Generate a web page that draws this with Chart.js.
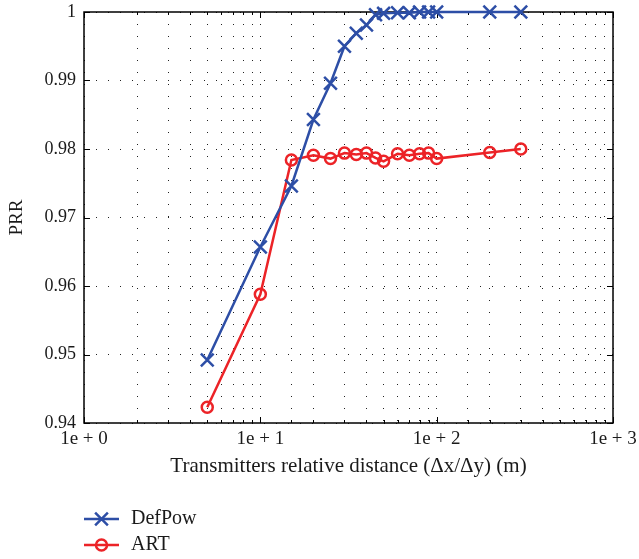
<!DOCTYPE html>
<html>
<head>
<meta charset="utf-8">
<script src="https://cdn.jsdelivr.net/npm/chart.js@4"></script>
<style>
  html, body { margin: 0; padding: 0; background: #fff; }
  #wrap { width: 639px; height: 559px; }
</style>
</head>
<body>
<div id="wrap"><canvas id="myChart" width="639" height="559"></canvas></div>
<script>
// data
const distances = [5, 10, 15, 20, 25, 30, 35, 40, 45, 50, 60, 70, 80, 90, 100, 200, 300];
const defPow = [0.9492, 0.9657, 0.9746, 0.9843, 0.9896, 0.9950, 0.9969, 0.9981, 0.9996, 0.9998,
  0.9999, 0.9999, 1.0, 1.0, 1.0, 1.0, 1.0];
const art = [0.9423, 0.9588, 0.9784, 0.9791, 0.9786, 0.9794, 0.9792, 0.9794, 0.9787, 0.9782,
  0.9793, 0.9791, 0.9793, 0.9794, 0.9786, 0.9795, 0.9800];
const seriesNames = ['DefPow', 'ART'];
const yTicks = [0.94, 0.95, 0.96, 0.97, 0.98, 0.99, 1];

const BLUE = '#2d4ea6';
const RED = '#ec2327';
const FONT = '"Liberation Serif", "DejaVu Serif", serif';

Chart.defaults.font.family = FONT;
Chart.defaults.font.size = 18;
Chart.defaults.color = '#1a1a1a';

function toPoints(values) {
  return distances.map((d, i) => ({ x: d, y: values[i] }));
}

function isDecade(v) {
  const e = Math.log10(v);
  return Math.abs(e - Math.round(e)) < 1e-9;
}

// frame + inward tick marks
const framePlugin = {
  id: 'frame',
  beforeDatasetsDraw(chart) {
    const { ctx, chartArea: a, scales } = chart;
    ctx.save();
    ctx.strokeStyle = '#000';
    ctx.lineWidth = 1.5;
    ctx.strokeRect(a.left, a.top, a.right - a.left, a.bottom - a.top);
    ctx.lineWidth = 1;
    ctx.beginPath();
    scales.x.ticks.forEach(t => {
      const px = Math.round(scales.x.getPixelForValue(t.value)) + 0.5;
      const len = isDecade(t.value) ? 6 : 3;
      ctx.moveTo(px, a.bottom); ctx.lineTo(px, a.bottom - len);
      ctx.moveTo(px, a.top); ctx.lineTo(px, a.top + len);
    });
    scales.y.ticks.forEach(t => {
      const py = Math.round(scales.y.getPixelForValue(t.value)) + 0.5;
      ctx.moveTo(a.left, py); ctx.lineTo(a.left + 6, py);
      ctx.moveTo(a.right, py); ctx.lineTo(a.right - 6, py);
    });
    ctx.stroke();
    ctx.restore();
  }
};

// vertical legend with line + marker samples
const legendPlugin = {
  id: 'lineLegend',
  afterDraw(chart) {
    const { ctx } = chart;
    const x0 = 84, x1 = 119, rows = [519, 545];
    ctx.save();
    chart.data.datasets.forEach((ds, i) => {
      const y = rows[i];
      ctx.strokeStyle = ds.borderColor;
      ctx.fillStyle = 'rgba(0,0,0,0)';
      ctx.lineWidth = ds.borderWidth;
      ctx.beginPath();
      ctx.moveTo(x0, y); ctx.lineTo(x1, y);
      ctx.stroke();
      Chart.helpers.drawPoint(ctx, {
        pointStyle: ds.pointStyle,
        radius: ds.pointRadius,
        borderWidth: ds.pointBorderWidth
      }, (x0 + x1) / 2, y);
      ctx.fillStyle = '#1a1a1a';
      ctx.font = '20px ' + FONT;
      ctx.textBaseline = 'middle';
      ctx.fillText(ds.label, 131, y);
    });
    ctx.restore();
  }
};

const ctx = document.getElementById('myChart').getContext('2d');
new Chart(ctx, {
  type: 'line',
  data: {
    datasets: [
      {
        label: seriesNames[0],
        data: toPoints(defPow),
        borderColor: BLUE,
        backgroundColor: 'rgba(0,0,0,0)',
        borderWidth: 2.5,
        pointStyle: 'crossRot',
        pointRadius: 9,
        pointBorderWidth: 2.5,
        pointBorderColor: BLUE,
        clip: false
      },
      {
        label: seriesNames[1],
        data: toPoints(art),
        borderColor: RED,
        backgroundColor: 'rgba(0,0,0,0)',
        borderWidth: 2.5,
        pointStyle: 'circle',
        pointRadius: 5.5,
        pointBorderWidth: 2.5,
        pointBorderColor: RED,
        clip: false
      }
    ]
  },
  options: {
    responsive: false,
    animation: false,
    layout: { padding: { left: 0, right: 26, top: 12, bottom: 80 } },
    plugins: {
      legend: { display: false },
      tooltip: { enabled: false }
    },
    elements: { line: { tension: 0 } },
    scales: {
      x: {
        type: 'logarithmic',
        min: 1,
        max: 1000,
        grid: { color: '#222', lineWidth: 1, drawTicks: false },
        border: { display: false, dash: [1, 11] },
        ticks: {
          autoSkip: false,
          maxRotation: 0,
          padding: 5,
          font: { size: 19 },
          callback: v => isDecade(v) ? '1e + ' + Math.round(Math.log10(v)) : ''
        },
        title: {
          display: true,
          text: 'Transmitters relative distance (\u0394x/\u0394y) (m)',
          font: { size: 21 },
          padding: { top: 4, bottom: 0 }
        },
        afterFit(scale) {
          scale.height = 56;
          scale.paddingLeft = 0;
          scale.paddingRight = 0;
        }
      },
      y: {
        min: 0.94,
        max: 1,
        afterBuildTicks(scale) { scale.ticks = yTicks.map(v => ({ value: v })); },
        grid: { color: '#222', lineWidth: 1, drawTicks: false },
        border: { display: false, dash: [1, 11] },
        ticks: {
          padding: 8,
          callback: v => String(+v.toFixed(2))
        },
        title: {
          display: true,
          text: 'PRR',
          font: { size: 19 },
          padding: { top: 6, bottom: 4 }
        },
        afterFit(scale) {
          scale.width = 84;
          scale.paddingTop = 0;
          scale.paddingBottom = 0;
        }
      }
    }
  },
  plugins: [framePlugin, legendPlugin]
});
</script>
</body>
</html>
